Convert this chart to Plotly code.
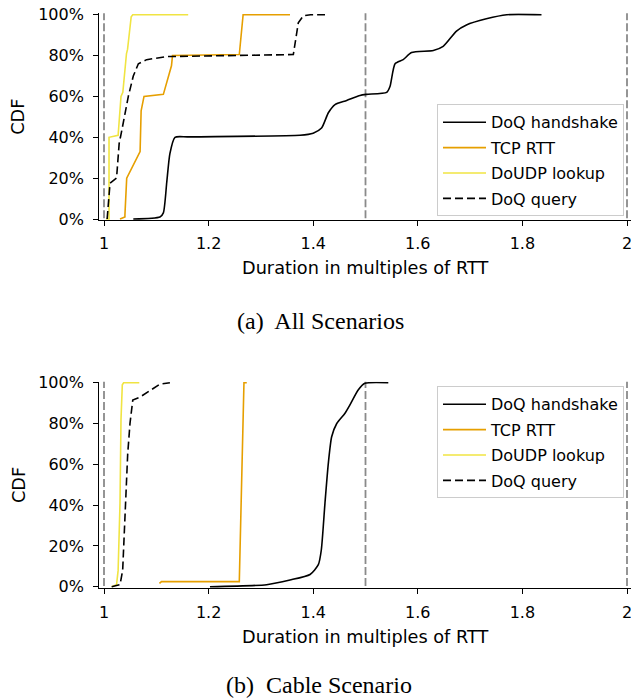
import plotly.graph_objects as go

# ---------------- data (CDF in %) ----------------
# (a) All Scenarios
hs_all_x = [1.056, 1.107, 1.1135, 1.12, 1.126, 1.1357, 1.16, 1.3748, 1.400, 1.416, 1.429, 1.4417,
            1.464, 1.4895, 1.502, 1.5405, 1.547, 1.5565, 1.572, 1.588, 1.6297, 1.6485, 1.674,
            1.693, 1.731, 1.77, 1.8365]
hs_all_y = [0, 1, 3, 18, 32, 40, 40.2, 41, 42, 44.5, 52, 56, 58, 60.5, 61, 62, 65, 76, 78, 81.5,
            82.5, 84.5, 92, 95, 98, 100, 100]
tcp_all_x = [1.0306, 1.040, 1.040, 1.0434, 1.069, 1.071, 1.0765, 1.1135, 1.129, 1.131, 1.2587,
             1.266, 1.3556]
tcp_all_y = [0, 1, 2, 20, 33, 53, 60, 61, 75, 80, 80.5, 100, 100]
udp_all_x = [1.004, 1.0096, 1.0096, 1.027, 1.0325, 1.036, 1.043, 1.045, 1.052, 1.055, 1.161]
udp_all_y = [0, 0, 40, 41, 60, 62, 81, 83, 99, 100, 100]
q_all_x = [1.006, 1.0115, 1.024, 1.029, 1.033, 1.0465, 1.056, 1.0657, 1.0815, 1.12, 1.362,
           1.368, 1.3715, 1.381, 1.395, 1.4225]
q_all_y = [0, 17.5, 20, 37, 42, 60, 70, 76, 78, 79.5, 80.5, 89, 96, 99.5, 100, 100]

# (b) Cable Scenario
hs_cab_x = [1.2026, 1.311, 1.3556, 1.394, 1.4098, 1.4155, 1.4225, 1.4289, 1.4353, 1.445, 1.4608,
            1.47, 1.486, 1.499, 1.5436]
hs_cab_y = [0, 1, 3.3, 6, 10.8, 18, 41, 60.5, 73.5, 80, 85, 89, 96.4, 99.7, 100]
tcp_cab_x = [1.106, 1.110, 1.2587, 1.2676, 1.273]
tcp_cab_y = [1.6, 2.5, 2.5, 100, 100]
udp_cab_x = [1.0147, 1.024, 1.027, 1.0306, 1.0325, 1.035, 1.0375, 1.0675]
udp_cab_y = [0, 1, 8, 41, 82, 99, 100, 100]
q_cab_x = [1.0147, 1.0306, 1.0357, 1.040, 1.0453, 1.0497, 1.055, 1.069, 1.094, 1.107, 1.126]
q_cab_y = [0, 1, 8, 31, 65, 80, 91.5, 93, 97, 99.3, 100]

ref_lines = [1, 1.5, 2]
x_ticks = [1, 1.2, 1.4, 1.6, 1.8, 2]
x_tick_text = ["1", "1.2", "1.4", "1.6", "1.8", "2"]
y_ticks = [0, 20, 40, 60, 80, 100]
y_tick_text = ["0%", "20%", "40%", "60%", "80%", "100%"]

names = ["DoQ handshake", "TCP RTT", "DoUDP lookup", "DoQ query"]
colors = ["#000000", "#E69F00", "#F0E442", "#000000"]
dashes = ["solid", "solid", "solid", "8px,4px"]

W, H = 631, 700

def px2fx(p):
    return p / W

def px2fy(p):
    return 1 - p / H

fig = go.Figure()

panels = [
    dict(xa="x", ya="y", legend="legend",
         series=[(hs_all_x, hs_all_y), (tcp_all_x, tcp_all_y), (udp_all_x, udp_all_y), (q_all_x, q_all_y)]),
    dict(xa="x2", ya="y2", legend="legend2",
         series=[(hs_cab_x, hs_cab_y), (tcp_cab_x, tcp_cab_y), (udp_cab_x, udp_cab_y), (q_cab_x, q_cab_y)]),
]

for k, p in enumerate(panels):
    for xr in ref_lines:
        fig.add_trace(go.Scatter(x=[xr, xr], y=[-5, 110], mode="lines", xaxis=p["xa"], yaxis=p["ya"],
                                 line=dict(color="#8a8a8a", width=1.8, dash="8px,3px"),
                                 showlegend=False, hoverinfo="skip"))
    for i, (sx, sy) in enumerate(p["series"]):
        shape = "spline" if i == 0 else "linear"
        fig.add_trace(go.Scatter(x=sx, y=sy, mode="lines", name=names[i], xaxis=p["xa"], yaxis=p["ya"],
                                 legend=p["legend"], legendgroup=f"g{k}_{i}",
                                 line=dict(color=colors[i], width=1.6, dash=dashes[i], shape=shape,
                                           smoothing=0.6 if shape == "spline" else None)))

xdom = [px2fx(99.3), 1.0]
xrange_ = [0.99101, 2.00765]
axis_common = dict(showline=True, linecolor="black", linewidth=1.3, ticks="outside", ticklen=5,
                   tickwidth=1.2, tickcolor="black", showgrid=False, zeroline=False, automargin=False,
                   ticklabeloverflow="allow",
                   tickfont=dict(family="DejaVu Sans", size=16, color="black"))
title_font = dict(family="DejaVu Sans", size=17.7, color="black")
legend_common = dict(xanchor="right", yanchor="top", bgcolor="rgba(255,255,255,0.85)",
                     bordercolor="#cccccc", borderwidth=1, tracegroupgap=1.6, itemwidth=43,
                     font=dict(family="DejaVu Sans", size=16, color="black"))

fig.update_layout(
    width=W, height=H, margin=dict(l=0, r=0, t=0, b=0, autoexpand=False),
    plot_bgcolor="white", paper_bgcolor="white",
    xaxis=dict(domain=xdom, range=xrange_, anchor="y", tickvals=x_ticks, ticktext=x_tick_text,
               ticklabelstandoff=4,
               title=dict(text="Duration in multiples of RTT", standoff=9, font=title_font), **axis_common),
    yaxis=dict(domain=[px2fy(220), px2fy(13.3)], range=[-0.49, 100.69], anchor="x", tickvals=y_ticks,
               ticktext=y_tick_text, ticklabelstandoff=6,
               title=dict(text="CDF", standoff=8, font=title_font), **axis_common),
    xaxis2=dict(domain=xdom, range=xrange_, anchor="y2", tickvals=x_ticks, ticktext=x_tick_text,
                ticklabelstandoff=4,
                title=dict(text="Duration in multiples of RTT", standoff=9, font=title_font), **axis_common),
    yaxis2=dict(domain=[px2fy(588.3), px2fy(381.7)], range=[-0.78, 100.5], anchor="x2", tickvals=y_ticks,
                ticktext=y_tick_text, ticklabelstandoff=6,
                title=dict(text="CDF", standoff=8, font=title_font), **axis_common),
    legend=dict(x=px2fx(624), y=px2fy(104.3), **legend_common),
    legend2=dict(x=px2fx(624), y=px2fy(386.3), **legend_common),
    annotations=[
        dict(text="(a)  All Scenarios", x=px2fx(320.5), y=px2fy(321), xref="paper", yref="paper",
             showarrow=False, xanchor="center", yanchor="middle",
             font=dict(family="Liberation Serif", size=24, color="black")),
        dict(text="(b)  Cable Scenario", x=px2fx(318.5), y=0, xref="paper", yref="paper",
             showarrow=False, xanchor="center", yanchor="bottom",
             font=dict(family="Liberation Serif", size=24, color="black")),
    ],
)

fig.write_html("out.html")
